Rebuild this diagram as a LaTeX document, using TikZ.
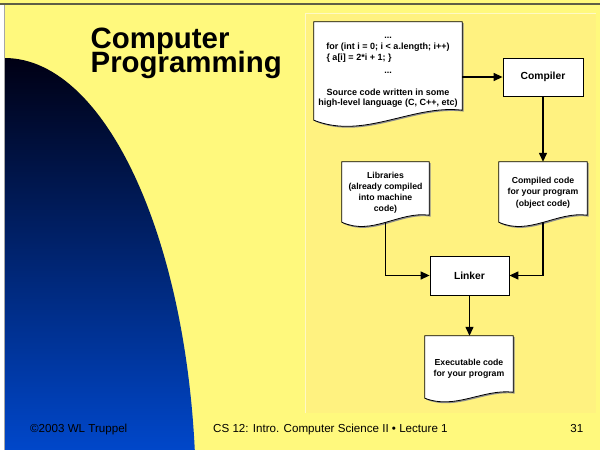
\documentclass[tikz,border=0pt]{standalone}
\usepackage{fontspec}
\setmainfont{Liberation Sans}
\usepackage{xcolor}
\definecolor{slideyellow}{RGB}{255,249,125}
\definecolor{panelyellow}{RGB}{255,242,128}
\definecolor{slidetop}{RGB}{0,0,20}
\definecolor{slidemid}{RGB}{0,56,170}
\definecolor{slideblue}{RGB}{0,80,225}
\definecolor{slideline}{RGB}{95,95,70}
\usetikzlibrary{calc,arrows.meta,shadows}

\pgfdeclarelayer{back}
\pgfdeclarelayer{docs}
\pgfsetlayers{back,docs,main}

\tikzset{
  box/.style={draw, fill=white, line width=0.8pt, inner sep=0pt,
    drop shadow={shadow xshift=1.4pt, shadow yshift=-1.4pt, fill=black!45, opacity=1},
    font=\fontsize{10.3}{12}\selectfont\bfseries},
  docbox/.style={inner sep=0pt},
  doc/.style={align=center, inner sep=0pt,
    font=\fontsize{8.7}{11}\selectfont\bfseries},
  docline/.style={draw, fill=white, line width=0.8pt},
  link/.style={line width=1.3pt, -{Triangle[length=9pt,width=8pt]}},
  titletext/.style={anchor=north west, align=left, inner sep=0pt,
    font=\fontsize{29.4}{24}\selectfont\bfseries},
  foot/.style={anchor=base west, inner sep=0pt,
    font=\fontsize{11.6}{13}\selectfont},
}

% outline of a document with a wavy bottom edge: node, control offset, drop at left
\newcommand{\docshape}[3]{%
  \begin{pgfonlayer}{docs}
    \fill[black!45, transform canvas={xshift=1.4pt, yshift=-1.4pt}]
      (#1.north west) -- (#1.north east) -- (#1.south east)
      .. controls +(-#2,-0.6*#3) and +(#2,2*#3) .. ($(#1.south west)+(0,#3)$) -- cycle;
    \draw[docline] (#1.north west) -- (#1.north east) -- (#1.south east)
      .. controls +(-#2,-0.6*#3) and +(#2,2*#3) .. ($(#1.south west)+(0,#3)$) -- cycle;
  \end{pgfonlayer}}

\begin{document}
\begin{tikzpicture}[x=1pt,y=-1pt]
    \useasboundingbox (0,0) rectangle (600,450);

    % Slide background
    \begin{pgfonlayer}{back}
        \fill[slideyellow] (0,0) rectangle (600,450);
        \fill[white] (0,4) rectangle (4,450);
        \begin{scope}
            \clip (0,0) rectangle (600,450);
            \shade[top color=slidetop, middle color=slidemid, bottom color=slideblue]
                (4.5,58) .. controls (110,58) and (196,256) .. (196,500) -- (4.5,500) -- cycle;
        \end{scope}
        \draw[gray!70, line width=1.5pt] (4.5,3) -- (4.5,450);
        \draw[slideline, line width=2pt] (0,3.5) -- (600,3.5);

        % Panel behind the chart
        \fill[panelyellow] (305,13) rectangle (596,413);
        \draw[white!55!panelyellow, line width=1pt] (305,413) -- (305,13) -- (596,13);
    \end{pgfonlayer}

    % Title
    \node[titletext] (title) at (90.5,27.5) {Computer\\[-4.5pt]Programming};

    % Source code
    \node[docbox, minimum width=148, minimum height=88] (source) at (388,66) {};
    \docshape{source}{50}{10}
    \node[doc, font=\fontsize{9}{10.8}\selectfont\bfseries] (sourcetext) at ([yshift=-6.5pt]source.center)
        {...\\
         for (int i = 0; i < a.length; i++)\\
         \makebox[123pt][l]{\{ a[i] = 2*i + 1; \}}\\[2.5pt]
         ...\\[11pt]
         Source code written in some\\
         high-level language (C, C++, etc)};

    % Compiler
    \node[box, minimum width=80, minimum height=38] (compiler) at (543,77) {Compiler};

    % Libraries and object code
    \node[docbox, minimum width=87, minimum height=53] (libraries) at (385.5,188.5) {};
    \docshape{libraries}{30}{7}
    \node[doc] (librariestext) at ([yshift=-4pt]libraries.center)
        {Libraries\\(already compiled\\into machine\\code)};

    \node[docbox, minimum width=88, minimum height=53] (compiled) at (543,188.5) {};
    \docshape{compiled}{30}{7}
    \node[doc, font=\fontsize{8.7}{11.5}\selectfont\bfseries] (compiledtext) at ([yshift=-4pt]compiled.center)
        {Compiled code\\for your program\\(object code)};

    % Linker
    \node[box, minimum width=79, minimum height=39] (linker) at (469.5,275.5) {Linker};

    % Executable
    \node[docbox, minimum width=88, minimum height=56] (exec) at (469,364) {};
    \docshape{exec}{30}{6}
    \node[doc] (exectext) at ([yshift=-4.5pt]exec.center)
        {Executable code\\for your program};

    % Arrows
    \draw[link] (source.east |- compiler.west) -- (compiler.west);
    \draw[link] (compiler.south) -- (compiled.north);
    \draw[link] ([yshift=-7pt]libraries.south) |- (linker.west);
    \draw[link] ([yshift=-7pt]compiled.south) |- (linker.east);
    \draw[link] (linker.south) -- (linker.south |- exec.north);

    % Footer
    \node[foot] (copy) at (30,432) {©2003 WL Truppel};
    \node[foot] (course) at (213,432) {CS 12: Intro. Computer Science II • Lecture 1};
    \node[foot, anchor=base east] (page) at (583.5,432) {31};
\end{tikzpicture}
\end{document}
